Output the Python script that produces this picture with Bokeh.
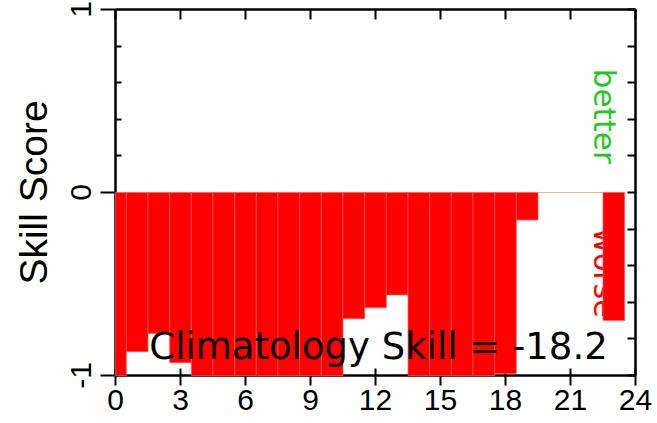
import math

from bokeh.embed import file_html
from bokeh.models import ColumnDataSource, FixedTicker, Label, LinearAxis, Range1d
from bokeh.plotting import figure
from bokeh.resources import INLINE

# Hourly skill score relative to climatology (values below -1 run off the axis)
hours = list(range(24))
skill = [-1.0, -0.87, -0.77, -0.93, -1.0, -1.0, -1.0, -1.0, -1.0, -1.0,
         -1.0, -0.69, -0.63, -0.56, -1.0, -1.0, -1.0, -1.0, -0.99, -0.15,
         0.0, 0.0, 0.0, -0.70]
climatology_skill = -18.2

x_ticks = [0, 3, 6, 9, 12, 15, 18, 21, 24]
y_major = [-1, 0, 1]
y_minor = [-0.8, -0.6, -0.4, -0.2, 0.2, 0.4, 0.6, 0.8]

RED = "#ff0000"
GREEN = "#22c822"
TAN = "#d8b088"
TICK_FONT = "Liberation Sans"
TEXT_FONT = "DejaVu Sans"

p = figure(width=657, height=423, output_backend="svg", toolbar_location=None,
           x_range=Range1d(0, 24), y_range=Range1d(-1, 1),
           x_axis_type=None, y_axis_type=None,
           min_border_left=115, min_border_right=22,
           min_border_top=9, min_border_bottom=48)
p.outline_line_color = None
p.background_fill_color = "white"
p.border_fill_color = "white"

# "worse" sits underneath the bars
p.add_layout(Label(x=22.58, y=-0.44, text="worse", angle=-math.pi / 2,
                   text_align="center", text_baseline="middle",
                   text_font=TEXT_FONT, text_font_size="30px",
                   text_color=RED, level="underlay"))

# bars: centred on each hour, spanning from zero to the score
src = ColumnDataSource(dict(
    x=hours,
    top=[max(v, 0.0) for v in skill],
    bottom=[min(v, 0.0) for v in skill],
    fill=[GREEN if v > 0 else RED for v in skill],
    edge=[TAN if v == 0 else "#ff5c5c" for v in skill],
))
bars = p.vbar(x="x", top="top", bottom="bottom", width=1.0, source=src,
              fill_color="fill", line_color="edge", line_width=0.7)
bars.level = "annotation"


def axis_style(ax):
    ax.axis_line_width = 2.5
    ax.major_tick_line_width = 2
    ax.minor_tick_line_width = 2
    ax.axis_line_color = "black"
    ax.major_tick_line_color = "black"
    ax.minor_tick_line_color = "black"
    ax.major_label_text_font = TICK_FONT
    ax.major_label_text_font_size = "30px"
    ax.major_label_text_color = "black"


xb = LinearAxis(ticker=FixedTicker(ticks=x_ticks, minor_ticks=[]),
                major_tick_in=7, major_tick_out=10,
                minor_tick_in=0, minor_tick_out=0, major_label_standoff=4,
                major_label_overrides={t: str(t) for t in x_ticks})
axis_style(xb)
p.add_layout(xb, "below")

# top and right edges carry tick marks only (no labels)
xt = LinearAxis(ticker=FixedTicker(ticks=[], minor_ticks=x_ticks),
                major_tick_in=0, major_tick_out=0,
                minor_tick_in=10, minor_tick_out=0, major_label_standoff=0)
axis_style(xt)
p.add_layout(xt, "above")

yl = LinearAxis(ticker=FixedTicker(ticks=y_major, minor_ticks=y_minor),
                major_tick_in=0, major_tick_out=15,
                minor_tick_in=6, minor_tick_out=0,
                major_label_orientation="vertical", major_label_standoff=10,
                major_label_overrides={t: str(t) for t in y_major},
                axis_label="Skill Score", axis_label_standoff=13,
                axis_label_text_font=TICK_FONT, axis_label_text_font_size="39px",
                axis_label_text_font_style="normal", axis_label_text_color="black")
axis_style(yl)
p.add_layout(yl, "left")

yr = LinearAxis(ticker=FixedTicker(ticks=[], minor_ticks=y_major + y_minor),
                major_tick_in=0, major_tick_out=0,
                minor_tick_in=8, minor_tick_out=0, major_label_standoff=0)
axis_style(yr)
p.add_layout(yr, "right")

# hour labels along the top edge (mostly beyond the canvas)
for t in x_ticks:
    p.add_layout(Label(x=t, y=1, y_offset=12, text=str(t), text_align="center",
                       text_baseline="middle", text_font=TICK_FONT,
                       text_font_size="30px", text_color="black"))

p.add_layout(Label(x=22.58, y=0.417, text="better", angle=-math.pi / 2,
                   text_align="center", text_baseline="middle",
                   text_font=TEXT_FONT, text_font_size="31px", text_color=GREEN))

p.add_layout(Label(x=12.14, y=-0.842, text=f"Climatology Skill = {climatology_skill}",
                   text_align="center", text_baseline="middle",
                   text_font=TEXT_FONT, text_font_size="37px", text_color="black",
                   level="overlay"))

# neighbouring panel's side title, just past the right edge of the frame
for ch, yy in (("N", -0.169), ("E", 0.068)):
    p.add_layout(Label(x=24, y=yy, x_offset=18, text=ch, angle=math.pi / 2,
                       text_align="center", text_baseline="middle",
                       text_font=TICK_FONT, text_font_size="28px", text_color="black"))

open("out.html", "w").write(file_html(p, INLINE))
